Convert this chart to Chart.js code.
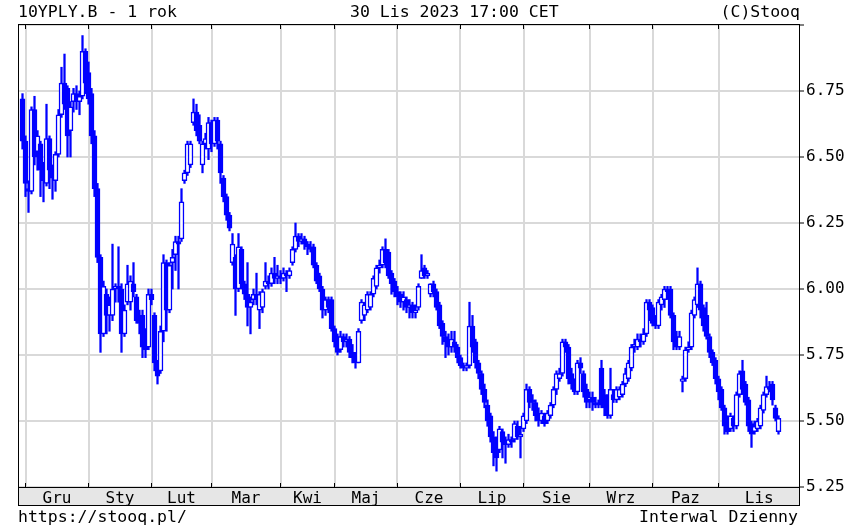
<!DOCTYPE html>
<html lang="pl">
<head>
<meta charset="UTF-8">
<title>10YPLY.B - 1 rok</title>
<script src="https://cdn.jsdelivr.net/npm/chart.js"></script>
<style>
    body { margin: 0; background: #fff; }
    #wrap { position: relative; width: 853px; height: 529px; }
    #chart { position: absolute; left: 0; top: 0; }
    .t {
        position: absolute;
        font-family: "DejaVu Sans Mono", monospace;
        font-size: 16.5px;
        line-height: 18px;
        color: #000;
        white-space: pre;
    }
</style>
</head>
<body>
<div id="wrap">
    <canvas id="chart" width="853" height="529"></canvas>
    <div class="t" style="left:18px;top:3px">10YPLY.B - 1 rok</div>
    <div class="t" style="left:350px;top:3px">30 Lis 2023 17:00 CET</div>
    <div class="t" style="right:53px;top:3px">(C)Stooq</div>
    <div class="t" style="left:18px;top:508px">https://stooq.pl/</div>
    <div class="t" style="right:55px;top:508px">Interwal Dzienny</div>
</div>
<script>
// daily candles, 30 Nov 2022 .. 30 Nov 2023 (trading day index = position in arrays)
const open = [
    6.72, 6.56, 6.38, 6.37, 6.68, 6.52, 6.55, 6.47, 6.40, 6.57,
    6.45, 6.41, 6.51, 6.66, 6.78, 6.76, 6.60, 6.71, 6.74, 6.71,
    6.73, 6.90, 6.82, 6.74, 6.58, 6.38, 6.12, 5.83, 5.98, 5.90,
    5.90, 6.00, 6.01, 6.00, 5.83, 5.95, 5.95, 6.02, 5.97, 5.88,
    5.90, 5.80, 5.78, 5.98, 5.90, 5.72, 5.69, 5.84, 6.10, 5.92,
    6.10, 6.13, 6.18, 6.19, 6.41, 6.44, 6.47, 6.63, 6.67, 6.62,
    6.47, 6.55, 6.53, 6.63, 6.55, 6.64, 6.55, 6.42, 6.35, 6.28,
    6.10, 6.12, 6.00, 6.15, 6.02, 5.98, 5.93, 5.96, 5.98, 5.92,
    5.93, 6.01, 6.03, 6.02, 6.06, 6.04, 6.05, 6.04, 6.06, 6.05,
    6.10, 6.15, 6.20, 6.18, 6.19, 6.17, 6.16, 6.16, 6.09, 6.05,
    6.00, 5.92, 5.96, 5.96, 5.85, 5.82, 5.77, 5.82, 5.80, 5.81,
    5.76, 5.74, 5.72, 5.88, 5.90, 5.92, 5.93, 5.98, 6.01, 6.08,
    6.09, 6.15, 6.14, 6.06, 6.03, 5.99, 5.98, 5.95, 5.96, 5.93,
    5.94, 5.91, 5.93, 6.04, 6.08, 6.05, 5.98, 6.02, 5.99, 5.94,
    5.87, 5.82, 5.80, 5.78, 5.80, 5.78, 5.74, 5.71, 5.70, 5.71,
    5.86, 5.80, 5.72, 5.68, 5.62, 5.56, 5.52, 5.44, 5.40, 5.39,
    5.46, 5.42, 5.41, 5.43, 5.43, 5.48, 5.44, 5.47, 5.50, 5.62,
    5.58, 5.57, 5.52, 5.50, 5.52, 5.50, 5.52, 5.56, 5.62, 5.66,
    5.68, 5.80, 5.78, 5.68, 5.64, 5.61, 5.72, 5.68, 5.62, 5.58,
    5.59, 5.57, 5.56, 5.70, 5.60, 5.58, 5.52, 5.60, 5.58, 5.59,
    5.60, 5.64, 5.66, 5.70, 5.78, 5.78, 5.81, 5.80, 5.83, 5.95,
    5.93, 5.88, 5.86, 5.94, 5.96, 6.00, 6.00, 5.90, 5.82, 5.78,
    5.65, 5.66, 5.77, 5.78, 5.90, 5.94, 6.02, 5.93, 5.90, 5.82,
    5.76, 5.73, 5.66, 5.62, 5.55, 5.50, 5.47, 5.51, 5.48, 5.60,
    5.69, 5.64, 5.58, 5.49, 5.46, 5.47, 5.48, 5.54, 5.60, 5.63,
    5.64, 5.55, 5.46
];
const high = [
    6.74, 6.58, 6.41, 6.69, 6.73, 6.60, 6.56, 6.48, 6.70, 6.58,
    6.47, 6.52, 6.68, 6.84, 6.89, 6.77, 6.71, 6.76, 6.77, 6.75,
    6.96, 6.91, 6.86, 6.76, 6.60, 6.40, 6.13, 6.03, 6.00, 5.97,
    6.17, 6.02, 6.16, 6.02, 5.94, 6.09, 6.05, 6.10, 5.98, 5.92,
    5.92, 5.85, 6.00, 6.00, 5.91, 5.73, 5.86, 6.13, 6.11, 6.10,
    6.15, 6.20, 6.20, 6.38, 6.45, 6.56, 6.56, 6.72, 6.70, 6.66,
    6.56, 6.59, 6.65, 6.64, 6.65, 6.65, 6.56, 6.43, 6.36, 6.29,
    6.21, 6.13, 6.21, 6.16, 6.03, 6.10, 5.97, 6.00, 6.06, 5.99,
    6.00, 6.10, 6.05, 6.08, 6.12, 6.09, 6.07, 6.08, 6.07, 6.08,
    6.16, 6.25, 6.21, 6.21, 6.20, 6.18, 6.18, 6.17, 6.10, 6.06,
    6.01, 5.97, 5.97, 5.97, 5.86, 5.83, 5.84, 5.83, 5.83, 5.82,
    5.79, 5.76, 5.85, 5.96, 5.95, 5.99, 5.99, 6.05, 6.09, 6.11,
    6.16, 6.19, 6.15, 6.07, 6.04, 6.01, 5.99, 5.99, 5.97, 5.96,
    5.95, 5.94, 6.02, 6.13, 6.09, 6.07, 6.02, 6.03, 6.00, 5.95,
    5.88, 5.84, 5.83, 5.84, 5.84, 5.79, 5.75, 5.72, 5.72, 5.95,
    5.90, 5.81, 5.73, 5.69, 5.64, 5.58, 5.53, 5.46, 5.44, 5.48,
    5.47, 5.44, 5.45, 5.44, 5.50, 5.50, 5.48, 5.53, 5.64, 5.63,
    5.60, 5.58, 5.55, 5.54, 5.53, 5.54, 5.57, 5.63, 5.69, 5.70,
    5.81, 5.81, 5.79, 5.70, 5.66, 5.73, 5.74, 5.69, 5.64, 5.61,
    5.61, 5.59, 5.58, 5.73, 5.62, 5.60, 5.70, 5.62, 5.63, 5.63,
    5.65, 5.70, 5.73, 5.79, 5.81, 5.83, 5.83, 5.85, 5.96, 5.96,
    5.94, 5.90, 5.96, 5.98, 6.01, 6.01, 6.01, 5.91, 5.84, 5.84,
    5.67, 5.78, 5.80, 5.92, 5.97, 6.08, 6.03, 5.94, 5.95, 5.83,
    5.77, 5.74, 5.67, 5.63, 5.56, 5.52, 5.53, 5.52, 5.61, 5.69,
    5.73, 5.65, 5.59, 5.50, 5.50, 5.51, 5.56, 5.61, 5.67, 5.65,
    5.65, 5.56, 5.52
];
const low = [
    6.53, 6.35, 6.29, 6.36, 6.47, 6.45, 6.35, 6.33, 6.39, 6.38,
    6.34, 6.37, 6.50, 6.65, 6.68, 6.50, 6.50, 6.67, 6.68, 6.66,
    6.72, 6.74, 6.70, 6.55, 6.35, 6.10, 5.76, 5.82, 5.83, 5.84,
    5.88, 5.95, 5.95, 5.76, 5.82, 5.94, 5.92, 5.97, 5.87, 5.83,
    5.74, 5.74, 5.77, 5.94, 5.69, 5.64, 5.68, 5.80, 5.84, 5.91,
    6.00, 6.07, 6.00, 6.18, 6.40, 6.43, 6.46, 6.62, 6.58, 6.55,
    6.44, 6.53, 6.49, 6.52, 6.54, 6.53, 6.40, 6.33, 6.26, 6.22,
    6.09, 5.90, 5.99, 6.00, 5.96, 5.86, 5.83, 5.94, 5.94, 5.85,
    5.91, 6.00, 6.00, 6.01, 6.02, 6.02, 6.02, 6.03, 5.99, 6.04,
    6.09, 6.14, 6.16, 6.17, 6.15, 6.13, 6.14, 6.08, 6.02, 5.99,
    5.89, 5.90, 5.91, 5.84, 5.78, 5.75, 5.76, 5.78, 5.78, 5.74,
    5.72, 5.70, 5.72, 5.87, 5.88, 5.91, 5.92, 5.97, 6.00, 6.06,
    6.08, 6.08, 6.04, 5.98, 5.97, 5.94, 5.93, 5.92, 5.91, 5.89,
    5.89, 5.89, 5.92, 6.04, 6.04, 6.04, 5.97, 5.97, 5.92, 5.85,
    5.79, 5.74, 5.75, 5.76, 5.76, 5.72, 5.70, 5.69, 5.69, 5.70,
    5.76, 5.70, 5.66, 5.60, 5.55, 5.48, 5.42, 5.33, 5.31, 5.38,
    5.36, 5.34, 5.40, 5.40, 5.42, 5.43, 5.36, 5.46, 5.49, 5.55,
    5.54, 5.50, 5.48, 5.49, 5.48, 5.49, 5.51, 5.55, 5.60, 5.65,
    5.67, 5.76, 5.64, 5.62, 5.60, 5.60, 5.68, 5.59, 5.55, 5.55,
    5.54, 5.55, 5.55, 5.55, 5.52, 5.51, 5.51, 5.57, 5.57, 5.58,
    5.59, 5.63, 5.65, 5.69, 5.76, 5.77, 5.78, 5.79, 5.82, 5.88,
    5.86, 5.85, 5.85, 5.92, 5.93, 5.96, 5.89, 5.77, 5.77, 5.77,
    5.61, 5.65, 5.76, 5.77, 5.89, 5.93, 5.89, 5.84, 5.81, 5.74,
    5.71, 5.64, 5.58, 5.54, 5.45, 5.45, 5.46, 5.46, 5.47, 5.59,
    5.60, 5.56, 5.46, 5.40, 5.45, 5.46, 5.47, 5.53, 5.59, 5.61,
    5.56, 5.50, 5.45
];
const close = [
    6.56, 6.40, 6.37, 6.68, 6.50, 6.58, 6.45, 6.41, 6.57, 6.45,
    6.42, 6.51, 6.66, 6.78, 6.70, 6.58, 6.69, 6.74, 6.71, 6.73,
    6.90, 6.78, 6.72, 6.58, 6.38, 6.12, 5.83, 6.01, 5.90, 5.94,
    6.00, 6.01, 6.00, 5.83, 5.92, 6.02, 6.03, 5.99, 5.88, 5.87,
    5.78, 5.77, 5.98, 5.96, 5.72, 5.67, 5.84, 6.10, 5.92, 6.09,
    6.12, 6.18, 6.17, 6.33, 6.44, 6.55, 6.55, 6.67, 6.60, 6.56,
    6.55, 6.57, 6.63, 6.55, 6.64, 6.56, 6.44, 6.35, 6.28, 6.23,
    6.17, 6.00, 6.16, 6.02, 5.98, 5.93, 5.95, 5.98, 5.96, 5.98,
    5.99, 6.03, 6.02, 6.06, 6.04, 6.05, 6.04, 6.06, 6.05, 6.07,
    6.15, 6.20, 6.18, 6.19, 6.17, 6.16, 6.15, 6.09, 6.03, 6.00,
    5.92, 5.96, 5.93, 5.85, 5.80, 5.76, 5.82, 5.80, 5.81, 5.76,
    5.74, 5.72, 5.84, 5.95, 5.94, 5.98, 5.98, 6.04, 6.08, 6.09,
    6.15, 6.10, 6.05, 6.02, 5.99, 5.97, 5.95, 5.97, 5.93, 5.94,
    5.91, 5.92, 6.01, 6.07, 6.05, 6.06, 6.02, 5.99, 5.93, 5.86,
    5.82, 5.80, 5.78, 5.81, 5.78, 5.74, 5.71, 5.70, 5.71, 5.86,
    5.78, 5.72, 5.68, 5.62, 5.57, 5.50, 5.44, 5.38, 5.36, 5.47,
    5.42, 5.41, 5.43, 5.42, 5.49, 5.44, 5.45, 5.52, 5.62, 5.57,
    5.57, 5.52, 5.50, 5.53, 5.49, 5.53, 5.56, 5.62, 5.68, 5.68,
    5.80, 5.78, 5.66, 5.64, 5.61, 5.72, 5.70, 5.61, 5.57, 5.59,
    5.57, 5.56, 5.56, 5.56, 5.55, 5.52, 5.62, 5.58, 5.62, 5.62,
    5.64, 5.68, 5.72, 5.78, 5.79, 5.81, 5.80, 5.83, 5.95, 5.92,
    5.87, 5.86, 5.95, 5.97, 6.00, 5.99, 5.90, 5.80, 5.78, 5.82,
    5.66, 5.77, 5.78, 5.91, 5.96, 6.02, 5.92, 5.86, 5.82, 5.76,
    5.72, 5.66, 5.61, 5.55, 5.48, 5.46, 5.52, 5.48, 5.60, 5.68,
    5.62, 5.57, 5.48, 5.45, 5.48, 5.50, 5.55, 5.60, 5.63, 5.62,
    5.58, 5.51, 5.51
];

// first trading day of each month (index into the arrays above)
const monthStarts = [1, 22, 43, 63, 86, 104, 125, 146, 167, 189, 210, 232];
const monthNames = ['Gru', 'Sty', 'Lut', 'Mar', 'Kwi', 'Maj', 'Cze', 'Lip', 'Sie', 'Wrz', 'Paz', 'Lis'];
const yMin = 5.25, yMax = 7.0, yStep = 0.25;

// 3 px per trading day
const xMin = -1.5;
const xMax = xMin + 782 / 3;

const blue = '#0000ff';
const gridColor = '#d9d9d9';
const monoFont = { family: 'DejaVu Sans Mono', size: 16 };

const wicks = high.map((h, i) => ({ x: i, y: [low[i], h] }));
const bodies = open.map((o, i) => ({ x: i, y: [o, close[i]] }));
const bodyFill = open.map((o, i) => close[i] > o ? '#ffffff' : blue);

// label positions: centred between month gridlines
const labelPos = monthStarts.map((s, k) => (s + (k < monthStarts.length - 1 ? monthStarts[k + 1] : xMax)) / 2);
const startSet = new Set(monthStarts);

const framePlugin = {
    id: 'frame',
    beforeDraw(chart) {
        const { ctx, chartArea: a } = chart;
        ctx.save();
        ctx.fillStyle = '#e6e6e6';
        ctx.fillRect(a.left, a.bottom, a.right - a.left, 19);
        ctx.restore();
    },
    afterDraw(chart) {
        const { ctx, chartArea: a } = chart;
        const xs = chart.scales.x;
        ctx.save();
        ctx.strokeStyle = '#000';
        ctx.lineWidth = 1;
        ctx.strokeRect(a.left + 0.5, a.top - 0.5, a.right - a.left - 1, a.bottom - a.top + 1);
        ctx.strokeRect(a.left + 0.5, a.bottom + 0.5, a.right - a.left - 1, 18);
        ctx.beginPath();
        monthStarts.forEach(s => {
            const px = Math.floor(xs.getPixelForValue(s)) + 0.5;
            ctx.moveTo(px, a.top);
            ctx.lineTo(px, a.top + 4);
            ctx.moveTo(px, a.bottom);
            ctx.lineTo(px, a.bottom - 4);
        });
        ctx.stroke();
        ctx.restore();
    }
};

new Chart(document.getElementById('chart'), {
    type: 'bar',
    data: {
        datasets: [
            {
                data: wicks,
                backgroundColor: blue,
                barThickness: 1.6,
                grouped: false,
                order: 2
            },
            {
                data: bodies,
                backgroundColor: bodyFill,
                borderColor: blue,
                borderWidth: 1.5,
                borderSkipped: false,
                barThickness: 5,
                grouped: false,
                order: 1
            }
        ]
    },
    options: {
        responsive: false,
        animation: false,
        layout: { padding: { left: 18, top: 25, right: 0, bottom: 0 } },
        plugins: { legend: { display: false }, tooltip: { enabled: false } },
        scales: {
            x: {
                type: 'linear',
                min: xMin,
                max: xMax,
                offset: false,
                afterFit: s => { s.height = 42; },
                afterBuildTicks: s => {
                    s.ticks = monthStarts.concat(labelPos).sort((p, q) => p - q).map(v => ({ value: v }));
                },
                grid: {
                    offset: false,
                    drawTicks: false,
                    lineWidth: 2,
                    color: c => (c.tick && startSet.has(c.tick.value)) ? gridColor : 'rgba(0,0,0,0)'
                },
                border: { display: false },
                ticks: {
                    autoSkip: false,
                    maxRotation: 0,
                    padding: 2,
                    color: '#000',
                    font: monoFont,
                    callback: v => {
                        const k = labelPos.indexOf(v);
                        return k >= 0 ? monthNames[k] : '';
                    }
                }
            },
            y: {
                position: 'right',
                min: yMin,
                max: yMax,
                afterFit: s => { s.width = 53; },
                grid: { color: gridColor, lineWidth: 2, tickColor: '#000', tickLength: 4, tickWidth: 1 },
                border: { display: false },
                ticks: {
                    stepSize: yStep,
                    padding: 2,
                    color: '#000',
                    font: monoFont,
                    callback: v => v >= yMax - 0.001 ? '' : v.toFixed(2)
                }
            }
        }
    },
    plugins: [framePlugin]
});
</script>
</body>
</html>
